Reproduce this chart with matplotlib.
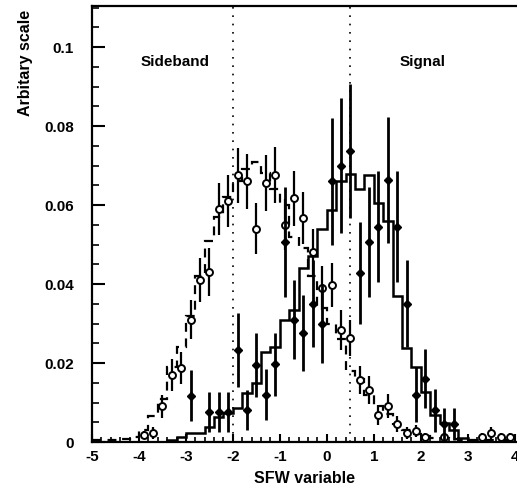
import numpy as np
import matplotlib
matplotlib.use("Agg")
import matplotlib.pyplot as plt
from matplotlib.ticker import MultipleLocator

# bin centres of the 0.2-wide SFW bins (-5 .. 4)
bin_centers = [-4.9, -4.7, -4.5, -4.3, -4.1, -3.9, -3.7, -3.5, -3.3, -3.1,
               -2.9, -2.7, -2.5, -2.3, -2.1, -1.9, -1.7, -1.5, -1.3, -1.1,
               -0.9, -0.7, -0.5, -0.3, -0.1, 0.1, 0.3, 0.5, 0.7, 0.9,
               1.1, 1.3, 1.5, 1.7, 1.9, 2.1, 2.3, 2.5, 2.7, 2.9,
               3.1, 3.3, 3.5, 3.7, 3.9]

# signal MC (solid histogram)
signal_mc = [0, 0, 0, 0, 0, 0, 0, 0, 0.0005, 0.0012,
             0.0023, 0.0023, 0.0038, 0.0063, 0.0073, 0.0086, 0.0124, 0.015, 0.0228, 0.024,
             0.031, 0.0334, 0.044, 0.047, 0.054, 0.0587, 0.066, 0.0678, 0.064, 0.0675,
             0.0605, 0.056, 0.037, 0.0238, 0.019, 0.0127, 0.0068, 0.0048, 0.003, 0.001,
             0.0005, 0, 0, 0, 0]

# sideband MC (dashed histogram)
sideband_mc = [0.0004, 0.0004, 0.0005, 0.0008, 0.0012, 0.003, 0.0065, 0.011, 0.019, 0.024,
               0.032, 0.042, 0.051, 0.057, 0.062, 0.066, 0.069, 0.071, 0.068, 0.064,
               0.060, 0.052, 0.049, 0.042, 0.034, 0.030, 0.026, 0.018, 0.016, 0.012,
               0.009, 0.007, 0.0045, 0.003, 0.002, 0.0015, 0.001, 0.001, 0.0008, 0.0006,
               0.0005, 0.0005, 0.0004, 0.0004, 0.0004]

# sideband data (open markers)
sb_x = [-3.9, -3.7, -3.5, -3.3, -3.1, -2.9, -2.7, -2.5, -2.3, -2.1,
        -1.9, -1.7, -1.5, -1.3, -1.1, -0.9, -0.7, -0.5, -0.3, -0.1,
        0.1, 0.3, 0.5, 0.7, 0.9, 1.1, 1.3, 1.5, 1.7, 1.9,
        2.1, 2.5, 3.3, 3.5, 3.7, 3.9]
sb_y = [0.0018, 0.0023, 0.009, 0.017, 0.0188, 0.031, 0.041, 0.043, 0.059, 0.061,
        0.0675, 0.066, 0.054, 0.0656, 0.0676, 0.055, 0.0617, 0.0567, 0.048, 0.039,
        0.0397, 0.0284, 0.0264, 0.0157, 0.0132, 0.0068, 0.0091, 0.0046, 0.0023, 0.0028,
        0.0013, 0.0013, 0.0013, 0.0023, 0.0013, 0.0013]
sb_err = [0.001, 0.0015, 0.003, 0.004, 0.004, 0.005, 0.0055, 0.006, 0.0065, 0.0065,
          0.007, 0.007, 0.0065, 0.007, 0.007, 0.0065, 0.007, 0.0065, 0.006, 0.0055,
          0.0055, 0.005, 0.0045, 0.0035, 0.0035, 0.0025, 0.003, 0.002, 0.0015, 0.0015,
          0.001, 0.001, 0.001, 0.0015, 0.001, 0.001]

# signal-region data (filled markers)
sig_x = [-2.9, -2.5, -2.3, -2.1, -1.9, -1.7, -1.5, -1.3, -1.1, -0.9,
         -0.7, -0.5, -0.3, -0.1, 0.1, 0.3, 0.5, 0.7, 0.9, 1.1,
         1.3, 1.5, 1.7, 1.9, 2.1, 2.3, 2.5, 2.7]
sig_y = [0.0117, 0.0076, 0.0076, 0.0076, 0.0233, 0.0081, 0.0195, 0.012, 0.0197, 0.0506,
         0.031, 0.0276, 0.035, 0.030, 0.066, 0.070, 0.0737, 0.0428, 0.0506, 0.0545,
         0.0663, 0.0545, 0.035, 0.012, 0.016, 0.008, 0.0045, 0.0045]
sig_err = [0.0065, 0.005, 0.005, 0.005, 0.0093, 0.005, 0.008, 0.0065, 0.008, 0.014,
           0.010, 0.0095, 0.011, 0.010, 0.016, 0.017, 0.017, 0.013, 0.014, 0.014,
           0.016, 0.014, 0.011, 0.007, 0.0075, 0.0055, 0.004, 0.004]

sideband_cut = -2.0
signal_cut = 0.5

plt.rcParams['font.family'] = ['Liberation Sans', 'DejaVu Sans']
plt.rcParams['font.weight'] = 'bold'
plt.rcParams['axes.unicode_minus'] = False

fig = plt.figure(figsize=(5.17, 4.90), dpi=100)
ax = fig.add_axes([92 / 517, 48 / 490, 425 / 517, 436 / 490])

centers = np.array(bin_centers)
edges = np.append(centers - 0.1, centers[-1] + 0.1)

ax.stairs(sideband_mc, edges, color='black', linewidth=1.6,
          linestyle=(0, (4, 3)), baseline=None)
ax.stairs(signal_mc, edges, color='black', linewidth=1.8, baseline=None)

ax.errorbar(sb_x, sb_y, yerr=sb_err, fmt='o', color='black', markersize=5,
            markerfacecolor='white', markeredgewidth=1.4, elinewidth=1.6,
            capsize=0, zorder=3)
ax.errorbar(sig_x, sig_y, yerr=sig_err, fmt='D', color='black', markersize=4.5,
            elinewidth=2.0, capsize=0, zorder=4)

for xc in (sideband_cut, signal_cut):
    ax.axvline(xc, color='black', linewidth=1.2, linestyle=(0, (1, 4)))

ax.text(-3.22, 0.0962, 'Sideband', ha='center', va='center', fontsize=11, fontweight='bold')
ax.text(2.05, 0.0962, 'Signal', ha='center', va='center', fontsize=11, fontweight='bold')

ax.set_xlim(-5, 4.05)
ax.set_ylim(0, 0.1104)

ax.xaxis.set_major_locator(MultipleLocator(1))
ax.xaxis.set_minor_locator(MultipleLocator(0.2))
ax.yaxis.set_major_locator(MultipleLocator(0.02))
ax.yaxis.set_minor_locator(MultipleLocator(0.005))
ax.set_yticks([0, 0.02, 0.04, 0.06, 0.08, 0.1])
ax.set_yticklabels(['0', '0.02', '0.04', '0.06', '0.08', '0.1'])

ax.tick_params(axis='both', which='major', direction='in', width=1.5, labelsize=11)
ax.tick_params(axis='y', which='major', length=9, pad=13)
ax.tick_params(axis='x', which='major', length=6, pad=6)
ax.tick_params(axis='y', which='minor', direction='in', length=5, width=1.2)
ax.tick_params(axis='x', which='minor', direction='in', length=3.5, width=1.2)
ax.tick_params(top=False, right=False)

for side in ('left', 'bottom', 'top'):
    ax.spines[side].set_linewidth(1.6)
ax.spines['right'].set_visible(False)

ax.set_xlabel('SFW variable', fontsize=11.5, fontweight='bold')
ax.xaxis.set_label_coords(0.5, -0.067)
ax.set_ylabel('Arbitary scale', fontsize=11.5, fontweight='bold', loc='top')
ax.yaxis.set_label_coords(-0.139, 0.99)

fig.savefig('out.png', dpi=100)
